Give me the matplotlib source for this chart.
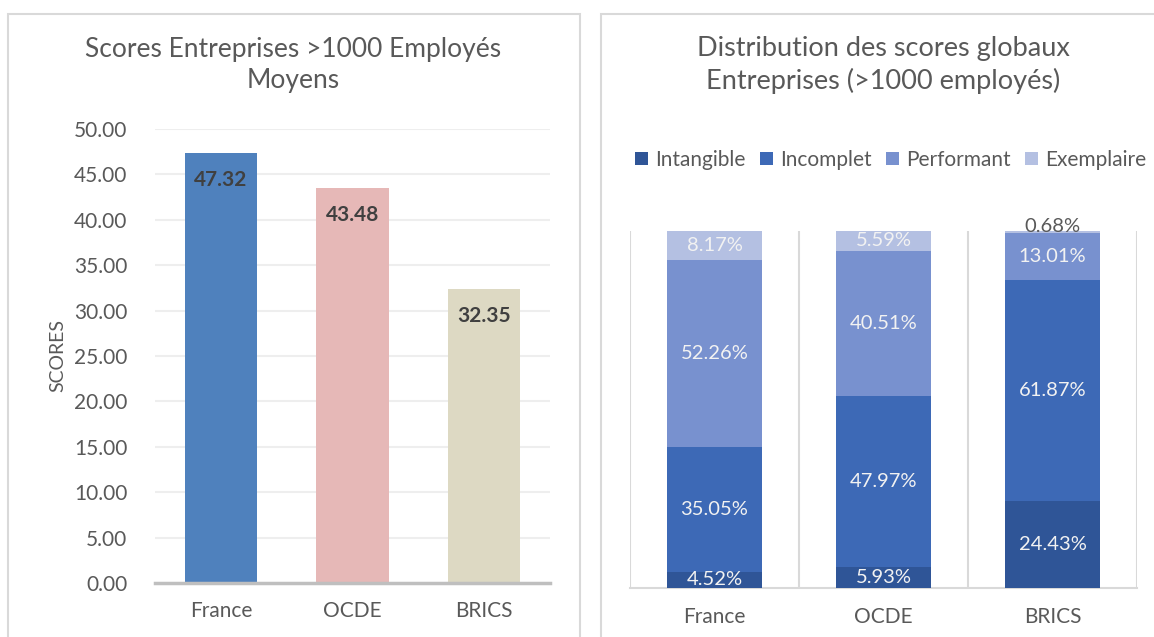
import matplotlib
matplotlib.use("Agg")
import matplotlib.pyplot as plt
from matplotlib.patches import Rectangle, Patch

plt.rcParams['font.family'] = ['Lato', 'DejaVu Sans']

# données
pays = ["France", "OCDE", "BRICS"]
scores_moyens = [47.32, 43.48, 32.35]
couleurs_scores = ["#4f81bd", "#e6b8b7", "#ddd9c3"]

niveaux = ["Intangible", "Incomplet", "Performant", "Exemplaire"]
intangible = [4.52, 5.93, 24.43]
incomplet = [35.05, 47.97, 61.87]
performant = [52.26, 40.51, 13.01]
exemplaire = [8.17, 5.59, 0.68]
couleurs_niveaux = ["#2f5597", "#3d69b6", "#7891cf", "#b4c0e2"]

W, H = 1154, 637
fig = plt.figure(figsize=(W / 100, H / 100), dpi=100)
gris = "#595959"

def fx(px):
    return px / W

def fy(py):
    return 1 - py / H

# cadres des deux graphiques
for x0, x1 in [(8, 580), (601, 1170)]:
    fig.patches.append(Rectangle((fx(x0), fy(660)), fx(x1 - x0), (660 - 14) / H,
                                 transform=fig.transFigure, fill=False,
                                 edgecolor="#d9d9d9", lw=1.5))

# ---- graphique de gauche ----
ax1 = fig.add_axes([fx(155), fy(583), fx(550 - 155), (583 - 129) / H])
x = range(len(pays))
bars = ax1.bar(x, scores_moyens, width=0.55, color=couleurs_scores, zorder=3)
ax1.set_ylim(0, 50)
ax1.set_xlim(-0.5, 2.5)
ax1.set_yticks(range(0, 51, 5))
ax1.set_yticklabels([f"{v:.2f}" for v in range(0, 51, 5)])
ax1.set_xticks(list(x))
ax1.set_xticklabels(pays)
ax1.tick_params(axis="both", length=0, labelsize=15, colors=gris)
ax1.tick_params(axis="y", pad=20)
ax1.tick_params(axis="x", pad=13)
ax1.grid(axis="y", color="#eeeeee", lw=1.5, zorder=0)
for s in ["top", "right", "left"]:
    ax1.spines[s].set_visible(False)
ax1.spines["bottom"].set_color("#bfbfbf")
ax1.spines["bottom"].set_linewidth(2.5)
ax1.spines["bottom"].set_zorder(4)
for b, v in zip(bars, scores_moyens):
    ax1.annotate(f"{v:.2f}", (b.get_x() + b.get_width() / 2, v), xytext=(0, -19),
                 textcoords="offset points", ha="center", va="center",
                 fontsize=15, fontweight="bold", color="#404040", zorder=5)

fig.text(fx(58), fy(355), "SCORES", rotation=90, ha="center", va="center",
         fontsize=14, color=gris)
fig.text(fx(293), fy(65), "Scores Entreprises >1000 Employés\nMoyens", ha="center",
         va="center", fontsize=19, color=gris, linespacing=1.3)

# ---- graphique de droite ----
ax2 = fig.add_axes([fx(630), fy(588), fx(1137 - 630), (588 - 231) / H])
series = [intangible, incomplet, performant, exemplaire]
bas = [0.0, 0.0, 0.0]
for nom, vals, c in zip(niveaux, series, couleurs_niveaux):
    ax2.bar(x, vals, bottom=bas, width=0.565, color=c, label=nom, zorder=3)
    for i, v in enumerate(vals):
        if v < 2:
            ax2.text(i, bas[i] + v / 2 + 1.5, f"{v:.2f}%", ha="center", va="center",
                     fontsize=14.5, color=gris, zorder=5)
        else:
            ax2.text(i, bas[i] + v / 2, f"{v:.2f}%", ha="center", va="center",
                     fontsize=14.5, color="#f2f2f2", zorder=5)
    bas = [b + v for b, v in zip(bas, vals)]
ax2.set_ylim(0, 100)
ax2.set_xlim(-0.5, 2.5)
ax2.set_yticks([])
ax2.set_xticks(list(x))
ax2.set_xticklabels(pays)
ax2.tick_params(axis="x", length=0, labelsize=15, colors=gris, pad=14)
for xs in [-0.5, 0.5, 1.5, 2.5]:
    ax2.axvline(xs, color="#d9d9d9", lw=1.5, zorder=1)
for s in ["top", "right", "left"]:
    ax2.spines[s].set_visible(False)
ax2.spines["bottom"].set_color("#d9d9d9")
ax2.spines["bottom"].set_linewidth(1.5)

handles = [Patch(facecolor=c, label=n) for n, c in zip(niveaux, couleurs_niveaux)]
fig.legend(handles=handles, loc="center left", bbox_to_anchor=(fx(625), fy(160)),
           ncol=4, frameon=False, fontsize=15, labelcolor=gris,
           handlelength=0.6, handleheight=0.6, handletextpad=0.35,
           columnspacing=0.7, borderpad=0)
fig.text(fx(883), fy(65), "Distribution des scores globaux\nEntreprises (>1000 employés)",
         ha="center", va="center", fontsize=19.5, color=gris, linespacing=1.3)

fig.savefig("out.png", dpi=100)
